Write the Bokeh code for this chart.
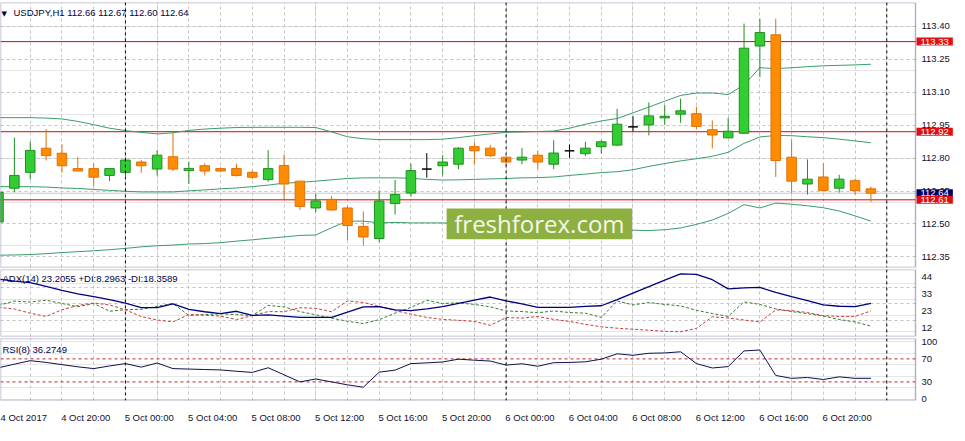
from bokeh.plotting import figure
from bokeh.layouts import column
from bokeh.models import (ColumnDataSource, Range1d, FixedTicker, LinearAxis, Grid,
                          Span, Label, BoxAnnotation, NumeralTickFormatter)
from bokeh.embed import file_html
from bokeh.resources import INLINE

# ---------------- data (USDJPY H1, 4 Oct 16:00 .. 6 Oct 23:00) ----------------
bars = list(range(56))
opens = [112.509, 112.663, 112.735, 112.845, 112.822, 112.752, 112.752, 112.721, 112.735, 112.782,
         112.750, 112.806, 112.743, 112.765, 112.752, 112.752, 112.735, 112.702, 112.766, 112.695,
         112.573, 112.612, 112.573, 112.489, 112.434, 112.593, 112.641, 112.750, 112.765, 112.772,
         112.852, 112.845, 112.804, 112.791, 112.813, 112.772, 112.833, 112.820, 112.852, 112.859,
         112.942, 112.951, 112.983, 113.000, 113.002, 112.929, 112.892, 112.913, 113.310, 113.361,
         112.804, 112.682, 112.714, 112.663, 112.697, 112.66]
highs = [112.660, 112.893, 112.875, 112.932, 112.862, 112.806, 112.775, 112.752, 112.806, 112.791,
         112.836, 112.922, 112.784, 112.775, 112.758, 112.775, 112.743, 112.836, 112.816, 112.695,
         112.636, 112.627, 112.583, 112.557, 112.652, 112.700, 112.775, 112.823, 112.813, 112.850,
         112.871, 112.859, 112.806, 112.845, 112.833, 112.881, 112.862, 112.874, 112.881, 113.024,
         112.990, 113.053, 113.041, 113.070, 113.034, 112.971, 112.983, 113.412, 113.434, 113.434,
         112.884, 112.794, 112.776, 112.724, 112.707, 112.67]
lows = [112.500, 112.644, 112.702, 112.789, 112.733, 112.741, 112.672, 112.695, 112.718, 112.733,
        112.721, 112.741, 112.682, 112.721, 112.736, 112.716, 112.704, 112.692, 112.612, 112.564,
        112.554, 112.560, 112.426, 112.401, 112.416, 112.543, 112.624, 112.711, 112.721, 112.750,
        112.772, 112.804, 112.765, 112.772, 112.750, 112.750, 112.801, 112.809, 112.820, 112.855,
        112.922, 112.903, 112.951, 112.961, 112.932, 112.844, 112.892, 112.910, 113.168, 112.714,
        112.641, 112.634, 112.652, 112.643, 112.634, 112.60]
closes = [112.644, 112.721, 112.835, 112.811, 112.765, 112.741, 112.713, 112.752, 112.791, 112.765,
          112.813, 112.750, 112.753, 112.741, 112.741, 112.721, 112.713, 112.752, 112.682, 112.580,
          112.605, 112.564, 112.493, 112.441, 112.605, 112.634, 112.743, 112.750, 112.782, 112.845,
          112.833, 112.811, 112.782, 112.804, 112.782, 112.823, 112.833, 112.845, 112.874, 112.954,
          112.942, 112.992, 112.990, 113.015, 112.944, 112.905, 112.922, 113.300, 113.371, 112.789,
          112.695, 112.704, 112.652, 112.704, 112.652, 112.64]

bb_upper = [112.984, 112.984, 112.984, 112.982, 112.978, 112.967, 112.952, 112.936, 112.925, 112.917,
            112.910, 112.915, 112.926, 112.932, 112.936, 112.939, 112.940, 112.940, 112.940, 112.940,
            112.939, 112.919, 112.897, 112.888, 112.884, 112.884, 112.884, 112.884, 112.886, 112.893,
            112.902, 112.910, 112.917, 112.919, 112.921, 112.923, 112.936, 112.954, 112.969, 112.980,
            113.006, 113.032, 113.059, 113.085, 113.096, 113.096, 113.089, 113.133, 113.211, 113.207,
            113.211, 113.216, 113.220, 113.222, 113.224, 113.227]
bb_mid = [112.670, 112.670, 112.670, 112.668, 112.664, 112.662, 112.657, 112.653, 112.649, 112.646,
          112.646, 112.646, 112.651, 112.655, 112.660, 112.664, 112.670, 112.677, 112.686, 112.689,
          112.695, 112.701, 112.707, 112.710, 112.710, 112.710, 112.708, 112.703, 112.700, 112.701,
          112.703, 112.705, 112.707, 112.710, 112.711, 112.714, 112.721, 112.727, 112.734, 112.738,
          112.747, 112.762, 112.775, 112.787, 112.797, 112.808, 112.826, 112.867, 112.896, 112.903,
          112.902, 112.897, 112.893, 112.886, 112.878, 112.870]
bb_lower = [112.358, 112.359, 112.361, 112.365, 112.370, 112.374, 112.378, 112.383, 112.389, 112.396,
            112.401, 112.404, 112.409, 112.411, 112.415, 112.422, 112.428, 112.435, 112.441, 112.448,
            112.450, 112.483, 112.513, 112.513, 112.505, 112.507, 112.505, 112.505, 112.505, 112.503,
            112.500, 112.498, 112.496, 112.494, 112.492, 112.489, 112.487, 112.485, 112.481, 112.476,
            112.472, 112.470, 112.474, 112.482, 112.498, 112.518, 112.548, 112.588, 112.573, 112.595,
            112.590, 112.583, 112.574, 112.559, 112.537, 112.513]

adx = [42.4, 41.2, 40.3, 37.9, 35.5, 33.4, 31.6, 29.8, 27.6, 24.8,
       24.8, 27.2, 23.8, 22.3, 21.1, 22.6, 20.0, 20.4, 19.6, 18.8,
       18.8, 18.8, 22.0, 25.3, 25.4, 23.5, 23.0, 24.1, 25.4, 27.4,
       29.5, 31.4, 29.0, 27.1, 25.0, 25.0, 25.0, 25.6, 26.0, 29.8,
       33.8, 37.8, 41.8, 45.7, 45.4, 42.1, 36.4, 37.0, 37.3, 34.3,
       31.6, 29.2, 26.5, 25.7, 25.4, 27.4]
plus_di = [26.2, 28.9, 28.3, 29.4, 27.4, 25.4, 27.4, 22.6, 23.6, 23.8,
           25.6, 27.4, 20.0, 20.5, 21.0, 20.5, 20.0, 26.2, 25.3, 22.4,
           20.4, 18.4, 16.4, 15.0, 17.4, 21.4, 25.0, 29.4, 27.4, 27.8,
           26.8, 25.3, 22.8, 22.4, 21.7, 22.8, 21.8, 21.4, 18.8, 29.0,
           26.5, 28.0, 26.8, 25.9, 23.2, 21.2, 19.4, 28.4, 26.8, 24.1,
           22.4, 21.1, 19.6, 17.5, 16.0, 13.4]
minus_di = [25.0, 24.0, 21.4, 19.4, 23.5, 26.2, 27.7, 26.5, 23.5, 19.3,
            17.2, 16.0, 20.6, 20.2, 19.6, 17.5, 19.9, 22.4, 22.3, 24.8,
            24.4, 22.3, 29.0, 28.0, 25.6, 23.0, 20.8, 18.8, 17.6, 17.0,
            16.3, 13.9, 18.7, 18.4, 19.3, 17.6, 16.3, 14.5, 13.0, 12.1,
            11.5, 10.9, 10.2, 9.9, 12.0, 19.2, 18.4, 17.2, 16.0, 23.4,
            23.0, 21.8, 19.9, 19.4, 19.4, 22.8]
rsi = [54.6, 60.8, 66.9, 63.8, 60.0, 56.2, 53.1, 57.7, 61.8, 55.7,
       62.8, 53.1, 52.3, 51.5, 50.8, 48.5, 46.5, 54.6, 42.3, 30.0,
       35.1, 30.0, 24.9, 20.8, 46.9, 50.5, 61.8, 63.1, 64.6, 69.5,
       67.7, 66.2, 59.2, 61.5, 57.2, 63.4, 63.8, 64.9, 69.5, 78.8,
       76.2, 79.7, 80.3, 82.3, 61.8, 54.2, 56.6, 83.8, 85.4, 41.2,
       36.2, 37.7, 34.2, 38.8, 36.2, 36.27]

time_tick_bars = [0, 4, 8, 12, 16, 20, 24, 28, 32, 36, 40, 44, 48, 52]
time_tick_labels = ["4 Oct 2017", "4 Oct 20:00", "5 Oct 00:00", "5 Oct 04:00", "5 Oct 08:00",
                    "5 Oct 12:00", "5 Oct 16:00", "5 Oct 20:00", "6 Oct 00:00", "6 Oct 04:00",
                    "6 Oct 08:00", "6 Oct 12:00", "6 Oct 16:00", "6 Oct 20:00"]
day_separator_bars = [8, 32, 56]
level_prices = [113.33, 112.92, 112.61]
last_price = 112.64
price_ticks = [112.35, 112.50, 112.65, 112.80, 112.95, 113.10, 113.25, 113.40]
adx_ticks = [12, 23, 33, 44]
rsi_ticks = [0, 30, 70, 100]
rsi_levels = [30, 70]
main_title = "USDJPY,H1  112.66 112.67 112.60 112.64"
adx_title = "ADX(14) 23.2055 +DI:8.2963 -DI:18.3589"
rsi_title = "RSI(8) 36.2749"
watermark = "freshforex.com"

# ---------------- styling ----------------
W = 957
PAD_R = 4                     # blank border right of every frame
FRAME_W = W - PAD_R           # frame runs under the price scale
CHART_W = 915                 # width of the drawing area (px)
X0, X1 = 0.125, 57.81         # visible bar range of the drawing area
PX = (X1 - X0) / CHART_W      # bar units per pixel
LABEL_STANDOFF = -(FRAME_W - CHART_W) + 6
FONT = "Liberation Sans"
FS = "9.5px"
NAVY = "#000044"
TXT = "#101030"
GRID = "#c4c4c4"
BULL_FILL, BULL_LINE = "#33cc33", "#1f8f1f"
BEAR_FILL, BEAR_LINE = "#ff8c00", "#e0700a"
DOJI = "#000000"
BB = "#3a9d6a"
LEVEL_RED = "#e00000"

xr = Range1d(X0, X0 + FRAME_W * PX)


def make_fig(height, yr, top, bottom):
    p = figure(width=W, height=height, x_range=xr, y_range=yr, output_backend="svg",
               toolbar_location=None, x_axis_location=None, y_axis_location=None,
               min_border_left=0, min_border_right=PAD_R, min_border_top=top,
               min_border_bottom=bottom, background_fill_color="white",
               border_fill_color="white")
    p.outline_line_color = None
    p.add_layout(Grid(dimension=0, ticker=FixedTicker(ticks=list(range(0, 58, 2))),
                      grid_line_color=GRID, grid_line_dash="3 3", grid_line_width=1))
    for b in day_separator_bars:
        p.add_layout(Span(location=b, dimension="height", line_color="black",
                          line_dash="3 3", line_width=1))
    return p


def finish_fig(p):
    # white price-scale strip right of the drawing area, and the drawing-area border
    p.add_layout(BoxAnnotation(left=X1, fill_color="white", fill_alpha=1.0, line_color=None,
                               level="glyph"))
    p.add_layout(BoxAnnotation(left=X0, right=X1, fill_alpha=0.0, line_color=NAVY,
                               line_width=1.5, level="overlay"))


def right_axis(p, ticks, fmt=None):
    ax = LinearAxis(ticker=FixedTicker(ticks=ticks))
    if fmt:
        ax.formatter = NumeralTickFormatter(format=fmt)
    ax.axis_line_color = None
    ax.major_tick_in = 0
    ax.major_tick_out = 0
    ax.major_tick_line_color = None
    ax.minor_tick_line_color = None
    ax.major_label_standoff = LABEL_STANDOFF
    ax.major_label_text_font = FONT
    ax.major_label_text_font_size = FS
    ax.major_label_text_color = TXT
    p.add_layout(ax, "right")
    return ax


def corner_title(p, text, x, y_off):
    p.add_layout(Label(x=x, y=p.y_range.end, x_units="screen", y_units="data", text=text,
                       text_font=FONT, text_font_size=FS, text_color=NAVY,
                       text_baseline="top", text_align="left", y_offset=y_off))


# ---------------- main price panel ----------------
p1 = make_fig(268, Range1d(112.302, 113.508), 2, 1)
p1.add_layout(Grid(dimension=1, ticker=FixedTicker(ticks=price_ticks),
                   grid_line_color=GRID, grid_line_dash="3 3"))
right_axis(p1, price_ticks, "0.00")

p1.add_layout(Span(location=last_price, dimension="width", line_color="#c8c8c8",
                   line_width=1, level="underlay"))
for lv in level_prices:
    p1.add_layout(Span(location=lv, dimension="width", line_color=LEVEL_RED,
                       line_width=1, level="underlay"))

p1.line(bars, bb_upper, line_color=BB, line_width=1)
p1.line(bars, bb_mid, line_color=BB, line_width=1)
p1.line(bars, bb_lower, line_color=BB, line_width=1)

fills, lines_c, tops, bots = [], [], [], []
for o, c in zip(opens, closes):
    if c > o:
        fills.append(BULL_FILL); lines_c.append(BULL_LINE)
    elif c < o:
        fills.append(BEAR_FILL); lines_c.append(BEAR_LINE)
    else:
        fills.append(DOJI); lines_c.append(DOJI)
    tops.append(max(o, c)); bots.append(min(o, c))

src = ColumnDataSource(dict(x=bars, o=opens, h=highs, l=lows, c=closes,
                            top=tops, bottom=bots, fill=fills, line=lines_c))
p1.segment(x0="x", y0="h", x1="x", y1="l", source=src, line_color="line", line_width=1)
p1.vbar(x="x", width=0.6, top="top", bottom="bottom", source=src,
        fill_color="fill", line_color="line", line_width=1)
finish_fig(p1)

# watermark
p1.add_layout(BoxAnnotation(left=28.25, right=39.94, bottom=112.43, top=112.57,
                            fill_color="#8db040", fill_alpha=1.0, line_color=None))
p1.add_layout(Label(x=34.1, y=112.50, text=watermark, text_font="Open Sans",
                    text_font_size="24px", text_color="#f4f7ea", text_align="center",
                    text_baseline="middle"))

p1.add_layout(Label(x=1, y=p1.y_range.end, x_units="screen", y_units="data", text="\u25bc",
                    text_font="DejaVu Sans", text_font_size="7px", text_color=NAVY,
                    text_baseline="top", y_offset=-7))
corner_title(p1, main_title, 13, -4)

# price boxes on the price scale
BOX_PAD = dict(left=4, right=4, top=1, bottom=1)
p1.add_layout(Label(x=X1, x_offset=1, y=last_price, y_units="data",
                    text=f"{last_price:.2f}", text_font=FONT, text_font_size=FS,
                    text_color="white", background_fill_color="#000066",
                    text_baseline="middle", text_align="left", padding=BOX_PAD))
for lv in level_prices:
    p1.add_layout(Label(x=X1, x_offset=1, y=lv, y_units="data",
                        text=f"{lv:.2f}", text_font=FONT, text_font_size=FS,
                        text_color="white", background_fill_color="#e01010",
                        text_baseline="middle", text_align="left", padding=BOX_PAD))

# ---------------- ADX panel ----------------
p2 = make_fig(69, Range1d(7.0, 48.4), 1, 1)
p2.add_layout(Grid(dimension=1, ticker=FixedTicker(ticks=[16.8, 27.1, 37.4]),
                   grid_line_color=GRID, grid_line_dash="3 3"))
right_axis(p2, adx_ticks)
p2.line(bars, plus_di, line_color="#2f7f2f", line_width=1, line_dash="3 2")
p2.line(bars, minus_di, line_color="#cc3b3b", line_width=1, line_dash="3 2")
p2.line(bars, adx, line_color="#000080", line_width=1.3)
finish_fig(p2)
corner_title(p2, adx_title, 2, -3)

# ---------------- RSI panel ----------------
p3 = make_fig(88, Range1d(-2.3, 105.4), 1, 20)
right_axis(p3, rsi_ticks)
for lv in rsi_levels:
    p3.add_layout(Span(location=lv, dimension="width", line_color="#c02828",
                       line_dash="3 3", line_width=1, level="underlay"))
p3.line(bars, rsi, line_color="#10104a", line_width=1)
finish_fig(p3)
corner_title(p3, rsi_title, 2, -5)

xt = [b + 1.5 for b in time_tick_bars]
xax = LinearAxis(ticker=FixedTicker(ticks=xt),
                 major_label_overrides={t: lab for t, lab in zip(xt, time_tick_labels)})
xax.axis_line_color = None
xax.major_tick_line_color = None
xax.minor_tick_line_color = None
xax.major_label_standoff = 5
xax.major_label_text_font = FONT
xax.major_label_text_font_size = FS
xax.major_label_text_color = TXT
p3.add_layout(xax, "below")

layout = column(p1, p2, p3, spacing=0)
open("out.html", "w").write(file_html(layout, INLINE))
